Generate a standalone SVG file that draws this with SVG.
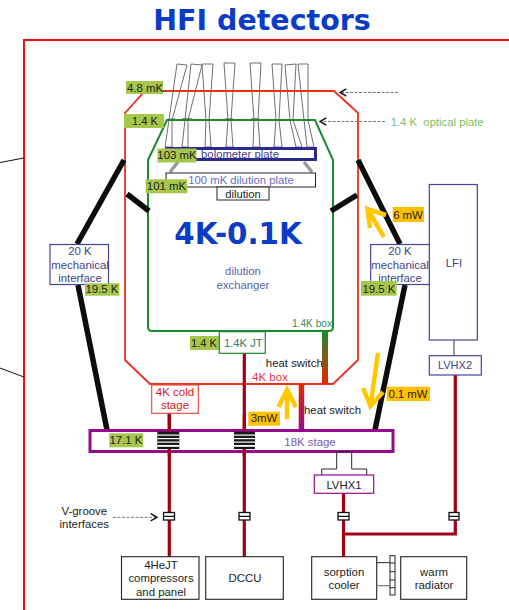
<svg xmlns="http://www.w3.org/2000/svg" width="509" height="610" viewBox="0 0 509 610">
<defs>
<linearGradient id="g1" x1="0" y1="0" x2="0" y2="1"><stop offset="0" stop-color="#1a8a2e"/><stop offset="1" stop-color="#e62a00"/></linearGradient>
<linearGradient id="g2" x1="0" y1="0" x2="0" y2="1"><stop offset="0" stop-color="#e62a00"/><stop offset="1" stop-color="#960a8c"/></linearGradient>
<marker id="ah" viewBox="0 0 10 10" refX="9" refY="5" markerWidth="9" markerHeight="9" orient="auto" markerUnits="userSpaceOnUse"><path d="M2 1 L9 5 L2 9" fill="none" stroke="#111" stroke-width="1.6"/></marker>
</defs>
<style>
text{font-family:"Liberation Sans",Arial,sans-serif;font-size:11.4px;text-anchor:middle;fill:#222}
.big{font-family:"DejaVu Sans",Verdana,sans-serif;font-weight:bold;fill:#0a3cc8}
.blue{fill:#3f4288}
.lab{fill:#a6c64c}.org{fill:#ffc000}
.box{fill:#fff;stroke:#45459a;stroke-width:1.2}
.bk{fill:#fff;stroke:#222;stroke-width:1.1}
.strut{fill:none;stroke:#0d0d0d;stroke-width:5.5}
.cable{fill:none;stroke:#a00015;stroke-width:3.2}
.dash{fill:none;stroke:#777;stroke-width:1;stroke-dasharray:3 1.5;marker-end:url(#ah)}
.yel{fill:none;stroke:#ffc800;stroke-width:4.5}
.horn{fill:none;stroke:#2b2b2b;stroke-width:1}
.thin{fill:none;stroke:#111;stroke-width:1}
</style>
<rect width="509" height="610" fill="#fff"/>
<text x="262" y="30" class="big" style="font-size:28.5px">HFI detectors</text>
<g id="frame" fill="none" stroke="#ee1111" stroke-width="2"><path d="M509 40H24V610"/></g>
<g id="external-lines" class="thin"><path d="M0 162.500L24 158"/><path d="M0 368L24 377"/></g>
<g id="detectors" fill="none" stroke="#707070" stroke-width="1">
<path d="M177 64L187 65L172 120L172 147L165 147L169 120Z"/>
<path d="M191 64L202 65L188 120L188 147L182 147L185 120Z"/>
<path d="M202 64L213 64L209 120L211 147L205 147L206 120Z"/>
<path d="M224 63L235 63L231 120L233 147L226 147L228 120Z"/>
<path d="M250 63L261 63L258 120L260 147L253 147L254 120Z"/>
<path d="M272 64L282 64L279 120L282 147L274 147L276 120Z"/>
<path d="M285 65L296 64L293 120L302 147L296 147L290 120Z"/>
<path d="M298 64L308 64L308 120L314 147L307 147L304 120Z"/>
<path d="M167 119.500L175 119M182 119H192M204 120H211M225 119H233M251 119H259M274 120H281M290 120H297M303 119.500H313" stroke="#333"/>
</g>
<g id="box-4k"><path d="M145 91H334L358 113V360L333 384H150L125 360V113Z" fill="none" stroke="#e8321e" stroke-width="1.8"/></g>
<g id="box-1k4"><path d="M167 120H315L333 160V327Q333 331 329 331H152Q148 331 148 327V160Z" fill="none" stroke="#1a8a2e" stroke-width="2"/></g>
<g id="connectors">
<path class="cable" d="M169.300 413V557"/>
<path class="cable" d="M244.300 353V557"/>
<path class="cable" d="M343.500 493V557M343.500 534H455.300V375"/>
<path d="M454 340V356" stroke="#555" stroke-width="1.2" fill="none"/>
<path class="strut" d="M124 160L77 244"/>
<path class="strut" d="M78 285L107 430"/>
<path class="strut" d="M358 160L400 244"/>
<path class="strut" d="M405 285L375 430"/>
<path class="strut" d="M127 194L149 211"/>
<path class="strut" d="M357 195L331 211"/>
<path class="dash" d="M398 92.500H340"/>
<path class="dash" d="M385 121.500H320"/>
<path class="dash" d="M113 517.300H157"/>
<path class="yel" d="M384 237L367.500 209M370 228L367.500 209L386 215"/>
<path class="yel" d="M378 353L370.500 406M363 388L370.500 406L383 392"/>
<path class="yel" d="M287 419V390M278.500 407L287 390L296 407"/>
</g>
<g id="dilution-plate"><path d="M170 172L178 162M304 162L312 172" stroke="#999" stroke-width="3.5" fill="none"/><rect x="166" y="173" width="149.500" height="14" fill="#fff" stroke="#222" stroke-width="1"/><text x="241" y="183.500" style="fill:#6a6fc0;font-size:11.300px">100 mK dilution plate</text></g>
<g id="dilution"><rect x="217" y="187" width="52" height="13" fill="#fff" stroke="#222" stroke-width="1"/><text x="243" y="197.500" style="font-size:11.200px">dilution</text></g>
<g id="bolometer-plate"><rect x="166.500" y="148.500" width="149" height="11" fill="#fff" stroke="#2a2a90" stroke-width="3"/><text x="240" y="158" class="blue" style="font-size:11.300px">bolometer plate</text></g>
<g id="label-4k"><text x="238" y="244" class="big" style="font-size:29.300px">4K-0.1K</text><text x="243" y="275" style="fill:#5a62a8;font-size:11.300px">dilution</text><text x="243" y="289" style="fill:#5a62a8;font-size:11.300px">exchanger</text></g>
<g id="temps">
<rect x="126" y="81" width="37" height="13" class="lab"/><text x="145" y="91.700">4.8 mK</text>
<rect x="124" y="114" width="40" height="14" class="lab"/><text x="145" y="125" style="font-size:11.100px">1.4 K</text>
<rect x="157.500" y="148.500" width="39" height="14" class="lab"/><text x="177" y="158.500">103 mK</text>
<rect x="145.700" y="179.300" width="41.600" height="14" class="lab"/><text x="166.500" y="190">101 mK</text>
</g>
<g id="yellow-labels">
<rect x="392.700" y="207" width="31.300" height="15" class="org"/><text x="408" y="219">6 mW</text>
<rect x="386.700" y="386.700" width="43.300" height="14.300" class="org"/><text x="408" y="398">0.1 mW</text>
<rect x="248.300" y="411.700" width="31.700" height="14" class="org"/><text x="264" y="422.300">3mW</text>
</g>
<text id="optical-label" x="390.700" y="126" style="fill:#7cc060;font-size:11.300px;text-anchor:start">1.4 K&#160;&#160;optical plate</text>
<text id="box14-label" x="312" y="327.300" style="fill:#3a8a6a;font-size:10.200px">1.4K box</text>
<g id="mech-left"><rect x="50" y="244.500" width="58.500" height="40" class="box"/><text x="80" y="255" class="blue">20 K</text><text x="80" y="269.300" class="blue">mechanical</text><text x="80" y="281.700" class="blue">interface</text><rect x="85" y="283.300" width="34.300" height="12.400" class="lab"/><text x="102" y="292.700">19.5 K</text></g>
<g id="lfi"><rect x="429.300" y="184.500" width="48" height="155.500" class="box"/><text x="454" y="266.700" class="blue">LFI</text></g>
<g id="mech-right"><rect x="370.700" y="244.500" width="58.600" height="40" class="box"/><text x="400" y="255" class="blue">20 K</text><text x="400" y="269.300" class="blue">mechanical</text><text x="400" y="281.500" class="blue">interface</text><rect x="361" y="281" width="35.700" height="14.700" class="lab"/><text x="379" y="292.700">19.5 K</text></g>
<g id="lvhx2"><rect x="429.300" y="355.700" width="52" height="19.300" class="box"/><text x="455" y="369.300" class="blue" style="font-size:11px">LVHX2</text></g>
<g id="jt"><rect x="190" y="336" width="29" height="14" class="lab"/><text x="204" y="346.700" style="font-size:11.100px">1.4 K</text><rect x="219.300" y="331.700" width="46" height="21.600" fill="#fff" stroke="#1a8a2e" stroke-width="1.200"/><text x="243.300" y="346.700" style="fill:#3a7a6a;font-size:11.200px">1.4K JT</text></g>
<g id="heat-switches">
<rect x="322" y="331" width="6" height="53" fill="url(#g1)"/>
<rect x="298.700" y="384" width="5.500" height="46" fill="url(#g2)"/>
<text x="294.300" y="367.300">heat switch</text>
<text x="332.500" y="414">heat switch</text>
<text x="270" y="380.700" style="fill:#e8324a;font-size:11.500px">4K box</text>
</g>
<g id="cold-stage"><rect x="151.700" y="385" width="46.600" height="28.300" fill="#fff" stroke="#e8503c" stroke-width="1.200"/><text x="175" y="395.700" style="fill:#dd1122;font-size:11.500px">4K cold</text><text x="175" y="409.300" style="fill:#dd1122;font-size:11.500px">stage</text></g>
<g id="stage18"><rect x="90" y="430.500" width="303" height="21" fill="#fff" stroke="#960a8c" stroke-width="3"/><rect x="109.300" y="433.300" width="34" height="14" class="lab"/><text x="126" y="444.300">17.1 K</text><text x="310" y="445.700" style="fill:#7a5ab0">18K stage</text>
<g fill="#1a1a1a"><rect x="157.300" y="431.700" width="22" height="17.300"/><rect x="234" y="431.700" width="21" height="17.300"/></g>
<g fill="#fff"><rect x="157.300" y="434.500" width="22" height="1.200"/><rect x="157.300" y="438" width="22" height="1.200"/><rect x="157.300" y="441.500" width="22" height="1.200"/><rect x="157.300" y="445" width="22" height="1.800"/><rect x="234" y="434.500" width="21" height="1.200"/><rect x="234" y="438" width="21" height="1.200"/><rect x="234" y="441.500" width="21" height="1.200"/><rect x="234" y="445" width="21" height="1.800"/></g>
<path d="M169.300 414V431M169.300 449V456M244.300 414V431M244.300 449V456" stroke="#a00015" stroke-width="3.200" fill="none"/>
</g>
<g id="v-label"><text x="84.300" y="515">V-groove</text><text x="84.300" y="528.300">interfaces</text></g>
<g id="v-grooves" fill="#fff" stroke="#111" stroke-width="1.300">
<rect x="163.500" y="512.500" width="11" height="7.500"/><rect x="239" y="512.500" width="11" height="7.500"/><rect x="338" y="512.500" width="11" height="7.500"/><rect x="449" y="512.500" width="10" height="7.500"/>
<path d="M163.500 516.300H174.500M239 516.300H250M338 516.300H349M449 516.300H459"/></g>
<g id="lvhx1"><path class="horn" d="M321.700 475V469H336.700V452H351.700V469H366.700V475"/><rect x="314.300" y="475" width="59.400" height="18.300" fill="#fff" stroke="#960a8c" stroke-width="1.200"/><text x="344" y="489.300">LVHX1</text></g>
<g id="compressors"><rect x="121.500" y="556.700" width="77.500" height="42.600" class="bk"/><text x="161" y="569">4HeJT</text><text x="161" y="582.300">compressors</text><text x="161" y="596">and panel</text></g>
<g id="dccu"><rect x="205.700" y="556.700" width="77.600" height="42.600" class="bk"/><text x="245" y="582.300">DCCU</text></g>
<g id="sorption"><rect x="311.700" y="556.700" width="65" height="42.600" class="bk"/><text x="344" y="575.700">sorption</text><text x="344" y="589">cooler</text></g>
<g id="radiator-link" fill="none" stroke="#222" stroke-width="1"><rect x="390" y="555.700" width="5" height="39.300" fill="#fff"/><path d="M390 563H395M390 571.700H395M390 580H395M390 587.700H395M376.700 562.700H390"/><path d="M376.700 585.700H390" stroke="#777" stroke-width="1.200"/></g>
<g id="radiator"><rect x="400.700" y="556.700" width="66" height="42.600" class="bk"/><text x="434" y="575.700">warm</text><text x="434" y="589">radiator</text></g>
</svg>
